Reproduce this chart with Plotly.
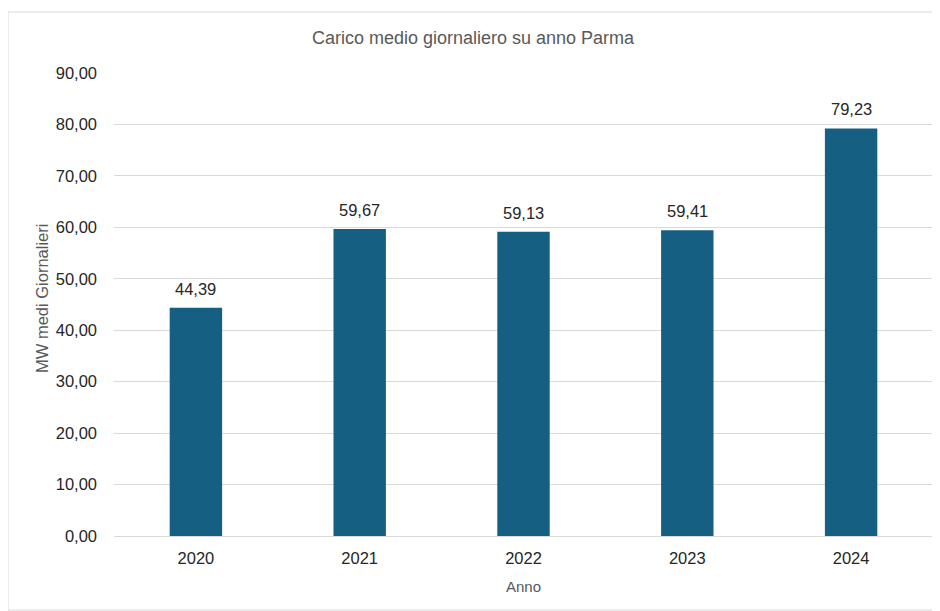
import plotly.graph_objects as go

anni = ["2020", "2021", "2022", "2023", "2024"]
valori = [44.39, 59.67, 59.13, 59.41, 79.23]
etichette = ["44,39", "59,67", "59,13", "59,41", "79,23"]
tick_vals = [0, 10, 20, 30, 40, 50, 60, 70, 80, 90]
tick_text = ["0,00", "10,00", "20,00", "30,00", "40,00", "50,00", "60,00", "70,00", "80,00", "90,00"]

W, H = 932, 603
L, R, T, B = 106, 7, 65, 75
FONT = "Liberation Sans, Arial, sans-serif"

fig = go.Figure(go.Bar(
    x=anni, y=valori,
    marker=dict(color="#156082", line=dict(width=0)),
    width=0.32,
))

for i, (v, e) in enumerate(zip(valori, etichette)):
    fig.add_annotation(x=i, y=v, text=e, showarrow=False, yanchor="bottom", yshift=8,
                       font=dict(size=16.5, color="#262626", family=FONT))

pw = W - L - R
ph = H - T - B
def px(x):
    return (x - L) / pw
def py(y):
    return (H - B - y) / ph

fig.add_shape(type="rect", xref="paper", yref="paper",
              x0=px(0), x1=px(928), y0=py(602), y1=py(4),
              line=dict(color="#d9d9d9", width=1), fillcolor="rgba(0,0,0,0)", layer="below")

fig.add_annotation(xref="paper", yref="paper", x=px(34), y=py(291), text="MW medi Giornalieri",
                   textangle=-90, showarrow=False, xanchor="center", yanchor="middle",
                   font=dict(size=16.5, color="#595959", family=FONT))

fig.update_layout(
    width=W, height=H,
    margin=dict(l=L, r=R, t=T, b=B),
    paper_bgcolor="white", plot_bgcolor="white",
    showlegend=False,
    title=dict(text="Carico medio giornaliero su anno Parma", x=465 / W, xanchor="center",
               y=1 - 30 / H, yanchor="middle",
               font=dict(size=18, color="#595959", family="Liberation Sans Narrow, Arial Narrow, Liberation Sans, sans-serif")),
    xaxis=dict(type="category", range=[-0.5, len(anni) - 0.5], showgrid=False, showline=False, ticks="",
               tickfont=dict(size=16.5, color="#262626", family=FONT),
               ticklabelstandoff=10,
               title=dict(text="Anno", font=dict(size=15, color="#595959", family=FONT), standoff=15)),
    yaxis=dict(range=[0, 90], tickvals=tick_vals, ticktext=tick_text,
               showgrid=True, gridcolor="#d9d9d9", gridwidth=1.3, zeroline=True, zerolinecolor="#d9d9d9",
               zerolinewidth=1.3, showline=False, ticks="",
               tickfont=dict(size=16.5, color="#262626", family=FONT),
               ticklabelstandoff=16),
)

fig.write_html("out.html")
